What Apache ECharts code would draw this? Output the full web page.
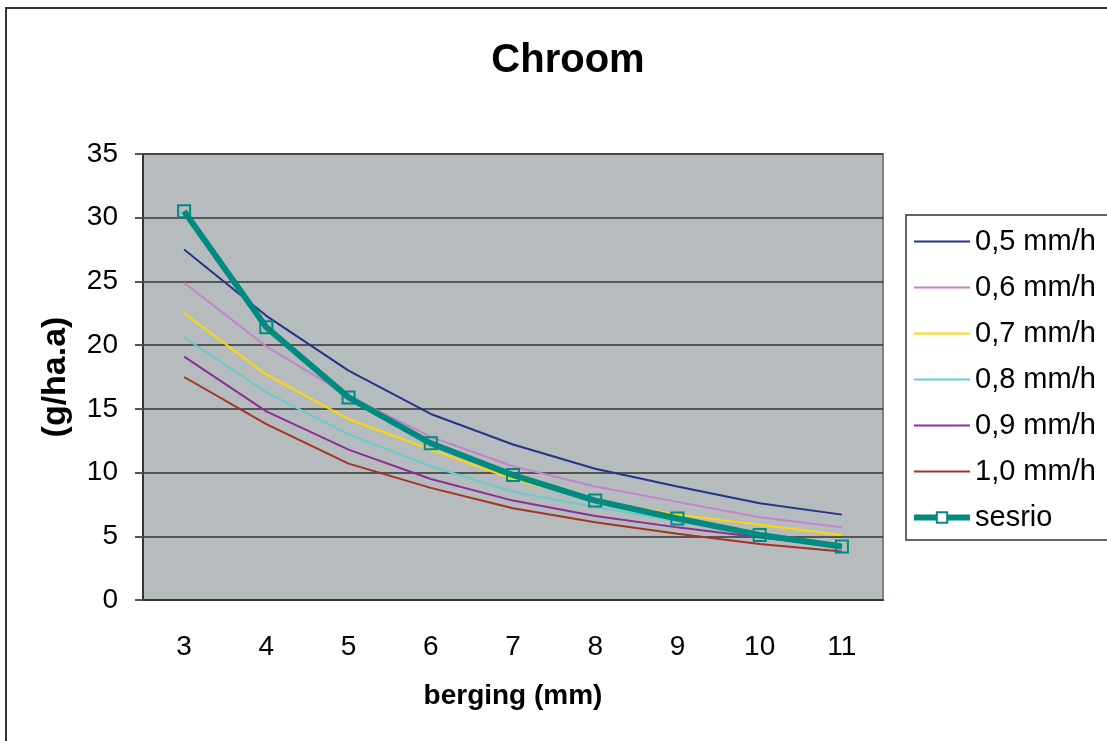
<!DOCTYPE html>
<html>
<head>
<meta charset="utf-8">
<script src="https://cdn.jsdelivr.net/npm/echarts@6/dist/echarts.min.js"></script>
<style>html,body{margin:0;padding:0;background:#fff}#c{width:1107px;height:741px}</style>
</head>
<body>
<div id="c"></div>
<script>
const categories = ['3','4','5','6','7','8','9','10','11'];
const s05 = [27.5, 22.3, 18.0, 14.6, 12.2, 10.3, 8.9, 7.6, 6.7];
const s06 = [24.9, 19.9, 16.0, 12.8, 10.5, 8.9, 7.7, 6.5, 5.7];
const s07 = [22.5, 17.7, 14.2, 11.8, 9.5, 7.8, 6.7, 5.9, 5.1];
const s08 = [20.6, 16.3, 13.0, 10.5, 8.5, 7.3, 6.2, 5.2, 4.3];
const s09 = [19.1, 14.8, 11.8, 9.5, 7.8, 6.6, 5.7, 4.9, 4.2];
const s10 = [17.5, 13.8, 10.7, 8.8, 7.2, 6.1, 5.2, 4.4, 3.8];
const sesrio = [30.5, 21.4, 15.9, 12.3, 9.8, 7.8, 6.4, 5.1, 4.2];
const seriesNames = ['0,5 mm/h','0,6 mm/h','0,7 mm/h','0,8 mm/h','0,9 mm/h','1,0 mm/h','sesrio'];
const colors = ['#26338a','#c283c9','#ffd800','#66cdc8','#8c2d98','#a33327','#008a80'];
const allData = [s05, s06, s07, s08, s09, s10, sesrio];

const font = 'Arial, "Liberation Sans", sans-serif';
const chart = echarts.init(document.getElementById('c'), null, {renderer:'canvas'});
const series = allData.map((d, i) => {
  const isS = i === 6;
  return {
    name: seriesNames[i], type: 'line', data: d,
    symbol: isS ? 'rect' : 'none', symbolSize: 12,
    showSymbol: isS,
    lineStyle: {color: colors[i], width: isS ? 6 : 2},
    itemStyle: {color: isS ? 'rgba(0,0,0,0)' : colors[i], borderColor: colors[i], borderWidth: 2},
    z: isS ? 5 : 2,
    animation: false
  };
});
const legendData = seriesNames.map((n, i) => i === 6
  ? {name: n, lineStyle: {width: 6, color: colors[i]}, itemStyle: {color: '#fff', borderColor: colors[i], borderWidth: 2}}
  : {name: n, itemStyle: {opacity: 0}, lineStyle: {width: 2, color: colors[i]}});
chart.setOption({
  animation: false,
  title: {text: 'Chroom', left: 563, textAlign: 'center', top: 36,
    textStyle: {fontFamily: font, fontSize: 40, fontWeight: 'bold', color: '#000'}},
  grid: {left: 143, top: 154, right: 224, bottom: 141, show: true,
    backgroundColor: '#b6bbbd', borderColor: '#808080', borderWidth: 2},
  legend: {orient: 'vertical', left: 906, top: 222, itemWidth: 56, itemHeight: 13, itemGap: 17,
    data: legendData,
    textStyle: {fontFamily: font, fontSize: 29, color: '#000', lineHeight: 26}},
  xAxis: {type: 'category', data: categories, boundaryGap: true,
    name: 'berging (mm)', nameLocation: 'middle', nameGap: 82,
    nameTextStyle: {fontFamily: font, fontSize: 28, fontWeight: 'bold', color: '#000'},
    axisLine: {lineStyle: {color: '#333', width: 2}},
    axisTick: {length: 10, lineStyle: {color: '#555', width: 2}},
    axisLabel: {fontFamily: font, fontSize: 28, color: '#000', margin: 33}},
  yAxis: {type: 'value', min: 0, max: 35, interval: 5,
    name: '(g/ha.a)', nameLocation: 'middle', nameGap: 70, nameRotate: 90,
    nameTextStyle: {fontFamily: font, fontSize: 34, fontWeight: 'bold', color: '#000'},
    axisLine: {show: true, lineStyle: {color: '#333', width: 2}},
    axisTick: {show: true, length: 8, lineStyle: {color: '#555', width: 2}},
    axisLabel: {fontFamily: font, fontSize: 28, color: '#000', margin: 25},
    splitLine: {lineStyle: {color: '#333', width: 1.5}}},
  graphic: [
    {type: 'rect', shape: {x: 6, y: 8, width: 1200, height: 800}, style: {fill: 'none', stroke: '#333', lineWidth: 2}, silent: true, z: -1},
    {type: 'rect', shape: {x: 906, y: 215, width: 300, height: 325}, style: {fill: '#fff', stroke: '#333', lineWidth: 1.5}, silent: true, z: -1}
  ],
  series: series
});
</script>
</body>
</html>
